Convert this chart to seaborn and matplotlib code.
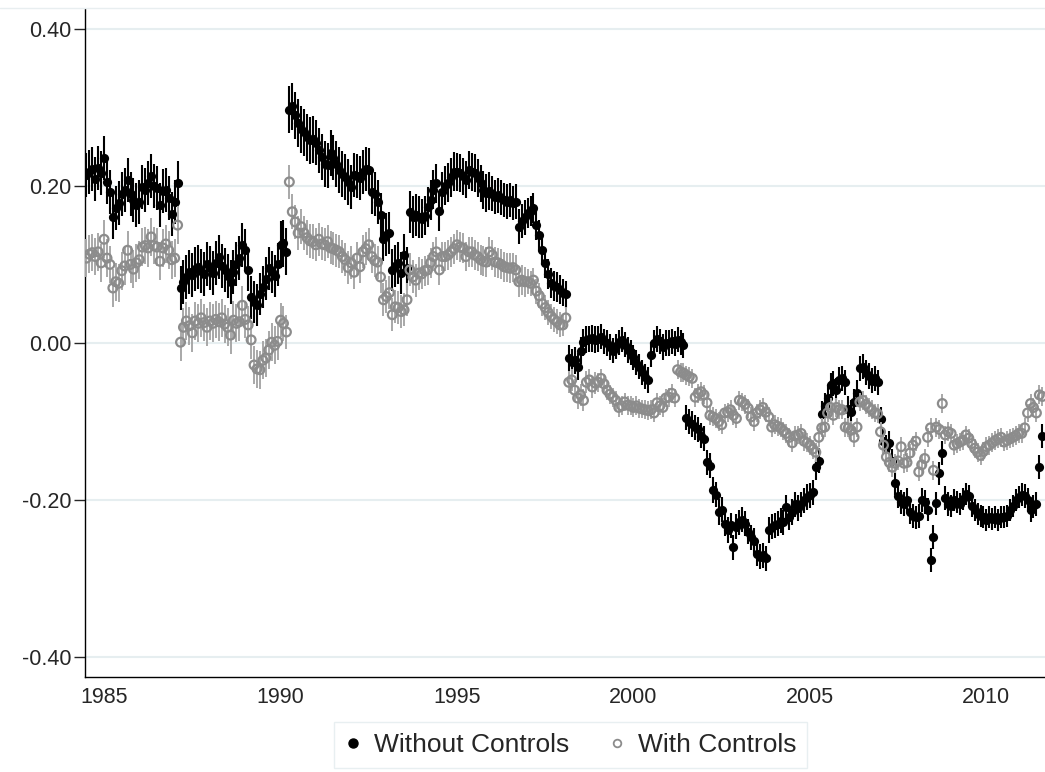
import numpy as np
import pandas as pd
import seaborn as sns
import matplotlib.pyplot as plt
from matplotlib.lines import Line2D

sns.set_style("white")
plt.rcParams['font.family'] = ['Liberation Sans', 'DejaVu Sans']

# monthly estimates, Jul 1984 - Aug 2011 (one row per year)
without_controls = [
    0.214, 0.218, 0.221, 0.209, 0.223, 0.216,
    0.236, 0.205, 0.192, 0.160, 0.172, 0.178, 0.190, 0.195, 0.208, 0.190, 0.182, 0.176,
    0.180, 0.198, 0.195, 0.203, 0.212, 0.200, 0.197, 0.175, 0.193, 0.195, 0.185, 0.164,
    0.180, 0.203, 0.070, 0.078, 0.084, 0.090, 0.086, 0.094, 0.097, 0.091, 0.088, 0.100,
    0.095, 0.089, 0.102, 0.110, 0.098, 0.093, 0.085, 0.078, 0.090, 0.100, 0.108, 0.125,
    0.118, 0.093, 0.058, 0.052, 0.048, 0.062, 0.071, 0.082, 0.095, 0.090, 0.085, 0.100,
    0.125, 0.127, 0.116, 0.297, 0.301, 0.290, 0.280, 0.272, 0.268, 0.262, 0.258, 0.259,
    0.255, 0.245, 0.237, 0.228, 0.226, 0.242, 0.236, 0.228, 0.220, 0.215, 0.211, 0.205,
    0.199, 0.214, 0.212, 0.210, 0.218, 0.221, 0.220, 0.192, 0.190, 0.180, 0.163, 0.132,
    0.138, 0.140, 0.093, 0.098, 0.102, 0.089, 0.112, 0.095, 0.167, 0.160, 0.163, 0.160,
    0.158, 0.162, 0.173, 0.182, 0.195, 0.203, 0.168, 0.192, 0.200, 0.204, 0.211, 0.218,
    0.218, 0.216, 0.212, 0.208, 0.220, 0.218, 0.216, 0.210, 0.203, 0.195, 0.191, 0.193,
    0.190, 0.186, 0.188, 0.185, 0.182, 0.180, 0.182, 0.178, 0.180, 0.148, 0.155, 0.160,
    0.165, 0.168, 0.172, 0.150, 0.137, 0.118, 0.102, 0.088, 0.076, 0.073, 0.071, 0.068,
    0.064, 0.062, -0.019, -0.024, -0.022, -0.030, -0.010, 0.001, 0.004, 0.005, 0.006, 0.004,
    0.005, 0.008, 0.002, 0.000, -0.005, -0.010, -0.004, 0.001, 0.004, -0.002, -0.009, -0.012,
    -0.018, -0.025, -0.030, -0.037, -0.043, -0.047, -0.015, 0.000, 0.005, 0.002, -0.005, 0.000,
    0.000, 0.002, -0.001, 0.004, 0.001, -0.003, -0.095, -0.100, -0.103, -0.107, -0.110, -0.118,
    -0.122, -0.152, -0.156, -0.187, -0.193, -0.215, -0.212, -0.230, -0.238, -0.232, -0.260, -0.234,
    -0.228, -0.225, -0.230, -0.240, -0.247, -0.252, -0.268, -0.272, -0.270, -0.274, -0.238, -0.234,
    -0.232, -0.230, -0.226, -0.228, -0.209, -0.222, -0.215, -0.205, -0.210, -0.205, -0.200, -0.196,
    -0.194, -0.190, -0.158, -0.150, -0.090, -0.080, -0.070, -0.054, -0.051, -0.060, -0.047, -0.045,
    -0.050, -0.084, -0.088, -0.075, -0.063, -0.032, -0.030, -0.038, -0.042, -0.048, -0.045, -0.050,
    -0.097, -0.125, -0.132, -0.127, -0.150, -0.178, -0.195, -0.202, -0.205, -0.200, -0.215, -0.220,
    -0.222, -0.220, -0.200, -0.202, -0.212, -0.276, -0.247, -0.204, -0.166, -0.140, -0.197, -0.205,
    -0.208, -0.200, -0.202, -0.205, -0.198, -0.192, -0.195, -0.208, -0.212, -0.217, -0.220, -0.222,
    -0.225, -0.222, -0.224, -0.222, -0.225, -0.221, -0.222, -0.220, -0.212, -0.207, -0.200, -0.196,
    -0.193, -0.195, -0.200, -0.213, -0.208, -0.205, -0.158, -0.118,
]

with_controls = [
    0.108, 0.113, 0.115, 0.110, 0.116, 0.102,
    0.132, 0.108, 0.100, 0.070, 0.078, 0.076, 0.092, 0.098, 0.118, 0.100, 0.094, 0.102,
    0.106, 0.122, 0.124, 0.121, 0.135, 0.124, 0.122, 0.104, 0.121, 0.126, 0.118, 0.106,
    0.108, 0.150, 0.001, 0.020, 0.028, 0.022, 0.013, 0.028, 0.025, 0.032, 0.026, 0.020,
    0.028, 0.025, 0.030, 0.027, 0.032, 0.024, 0.020, 0.010, 0.029, 0.025, 0.027, 0.048,
    0.030, 0.023, 0.004, -0.028, -0.033, -0.034, -0.022, -0.019, -0.009, 0.001, -0.003, 0.002,
    0.029, 0.025, 0.014, 0.205, 0.167, 0.154, 0.140, 0.148, 0.140, 0.134, 0.130, 0.129,
    0.125, 0.132, 0.126, 0.125, 0.129, 0.121, 0.120, 0.118, 0.116, 0.110, 0.106, 0.096,
    0.102, 0.090, 0.108, 0.097, 0.116, 0.120, 0.125, 0.110, 0.105, 0.103, 0.084, 0.055,
    0.059, 0.064, 0.036, 0.046, 0.045, 0.040, 0.042, 0.055, 0.093, 0.084, 0.080, 0.089,
    0.088, 0.092, 0.093, 0.102, 0.110, 0.116, 0.093, 0.110, 0.110, 0.112, 0.116, 0.120,
    0.125, 0.122, 0.121, 0.110, 0.116, 0.116, 0.112, 0.110, 0.106, 0.104, 0.103, 0.116,
    0.112, 0.103, 0.102, 0.100, 0.097, 0.096, 0.095, 0.096, 0.093, 0.078, 0.080, 0.078,
    0.078, 0.076, 0.080, 0.066, 0.060, 0.050, 0.045, 0.039, 0.034, 0.030, 0.027, 0.023,
    0.023, 0.032, -0.050, -0.047, -0.060, -0.070, -0.066, -0.073, -0.050, -0.047, -0.056, -0.051,
    -0.050, -0.045, -0.052, -0.060, -0.065, -0.069, -0.073, -0.082, -0.080, -0.075, -0.079, -0.080,
    -0.082, -0.080, -0.083, -0.084, -0.085, -0.086, -0.085, -0.089, -0.076, -0.080, -0.082, -0.070,
    -0.069, -0.064, -0.070, -0.034, -0.037, -0.038, -0.041, -0.043, -0.045, -0.069, -0.064, -0.062,
    -0.066, -0.076, -0.092, -0.094, -0.096, -0.100, -0.104, -0.089, -0.088, -0.085, -0.092, -0.096,
    -0.073, -0.075, -0.078, -0.083, -0.094, -0.100, -0.089, -0.085, -0.082, -0.088, -0.094, -0.107,
    -0.104, -0.106, -0.108, -0.112, -0.115, -0.120, -0.127, -0.118, -0.117, -0.115, -0.125, -0.127,
    -0.130, -0.135, -0.139, -0.120, -0.108, -0.107, -0.089, -0.082, -0.092, -0.082, -0.085, -0.085,
    -0.107, -0.108, -0.111, -0.120, -0.107, -0.075, -0.073, -0.078, -0.082, -0.085, -0.089, -0.090,
    -0.113, -0.130, -0.145, -0.152, -0.158, -0.153, -0.150, -0.132, -0.153, -0.152, -0.140, -0.130,
    -0.125, -0.164, -0.155, -0.147, -0.120, -0.108, -0.162, -0.107, -0.110, -0.077, -0.117, -0.113,
    -0.115, -0.130, -0.128, -0.126, -0.124, -0.117, -0.121, -0.128, -0.134, -0.139, -0.143, -0.138,
    -0.132, -0.130, -0.127, -0.124, -0.122, -0.120, -0.126, -0.124, -0.122, -0.120, -0.118, -0.115,
    -0.115, -0.108, -0.089, -0.077, -0.082, -0.089, -0.066, -0.068,
]

# half-width of the confidence interval, by year 1984..2011
years = list(range(1984, 2012))
ci_without = [0.028, 0.028, 0.028, 0.028, 0.028, 0.027, 0.030, 0.029, 0.028, 0.027,
              0.025, 0.024, 0.022, 0.019, 0.017, 0.016, 0.016, 0.016, 0.016, 0.016,
              0.016, 0.016, 0.016, 0.015, 0.015, 0.014, 0.014, 0.015]
ci_with = [0.024, 0.024, 0.024, 0.024, 0.024, 0.024, 0.022, 0.021, 0.021, 0.021,
           0.019, 0.019, 0.019, 0.016, 0.014, 0.012, 0.012, 0.012, 0.012, 0.012,
           0.012, 0.012, 0.012, 0.012, 0.012, 0.012, 0.012, 0.012]

xtick_vals = [1985, 1990, 1995, 2000, 2005, 2010]
ytick_vals = [-0.4, -0.2, 0.0, 0.2, 0.4]
ytick_labels = ["-0.40", "-0.20", "0.00", "0.20", "0.40"]

months = pd.date_range("1984-07-01", "2011-08-01", freq="MS")
per_year = pd.Series(months.year).value_counts().reindex(years).values
df = pd.DataFrame({
    "t": months.year + (months.month - 1) / 12,
    "wo": without_controls,
    "w": with_controls,
    "ci_wo": np.repeat(ci_without, per_year),
    "ci_w": np.repeat(ci_with, per_year),
})

fig = plt.figure(figsize=(10.45, 7.72), dpi=100)
ax = fig.add_axes([85 / 1045, 95 / 772, 960 / 1045, 668 / 772])

ax.vlines(df["t"], df["wo"] - df["ci_wo"], df["wo"] + df["ci_wo"],
          color="black", lw=1.5, zorder=2)
sns.scatterplot(data=df, x="t", y="wo", color="black", s=44, linewidth=0,
                ax=ax, zorder=3)
ax.vlines(df["t"], df["w"] - df["ci_w"], df["w"] + df["ci_w"],
          color="#a8a8a8", lw=1.4, zorder=4)
sns.scatterplot(data=df, x="t", y="w", color="#8c8c8c", s=40, linewidth=1.6,
                edgecolor="#8c8c8c", ax=ax, zorder=5)
ax.collections[-1].set_facecolor("none")

ax.set_xlim(1984.46, 2011.66)
ax.set_ylim(-0.425, 0.425)
ax.set_xticks(xtick_vals)
ax.set_xticklabels([str(v) for v in xtick_vals])
ax.set_yticks(ytick_vals)
ax.set_yticklabels(ytick_labels)
ax.set_xlabel("")
ax.set_ylabel("")
ax.tick_params(axis="x", length=0, pad=7, labelsize=15.5)
ax.tick_params(axis="y", length=8, width=1, direction="out", pad=2,
               labelsize=15.5, left=True)
ax.yaxis.grid(True, color="#e6eef0", lw=1.5, zorder=0)
ax.set_axisbelow(True)
for side in ["top", "right"]:
    ax.spines[side].set_visible(False)
for side in ["left", "bottom"]:
    ax.spines[side].set_color("black")
    ax.spines[side].set_linewidth(1)

fig.add_artist(Line2D([0, 1], [1 - 8 / 772] * 2, color="#e8eef0", lw=1))

handles = [
    Line2D([], [], ls="none", marker="o", color="black", markersize=6.5),
    Line2D([], [], ls="none", marker="o", markerfacecolor="none",
           markeredgecolor="#8c8c8c", markeredgewidth=1.3, markersize=5.5),
]
fig.legend(handles, ["Without Controls", "With Controls"], loc="center",
           bbox_to_anchor=(0.546, 0.035), ncol=2, fontsize=19, frameon=True,
           fancybox=False, edgecolor="#e3ebee", borderpad=0.4,
           handletextpad=0.5, columnspacing=1.5, handlelength=0.6)

fig.savefig("out.png", dpi=100)
